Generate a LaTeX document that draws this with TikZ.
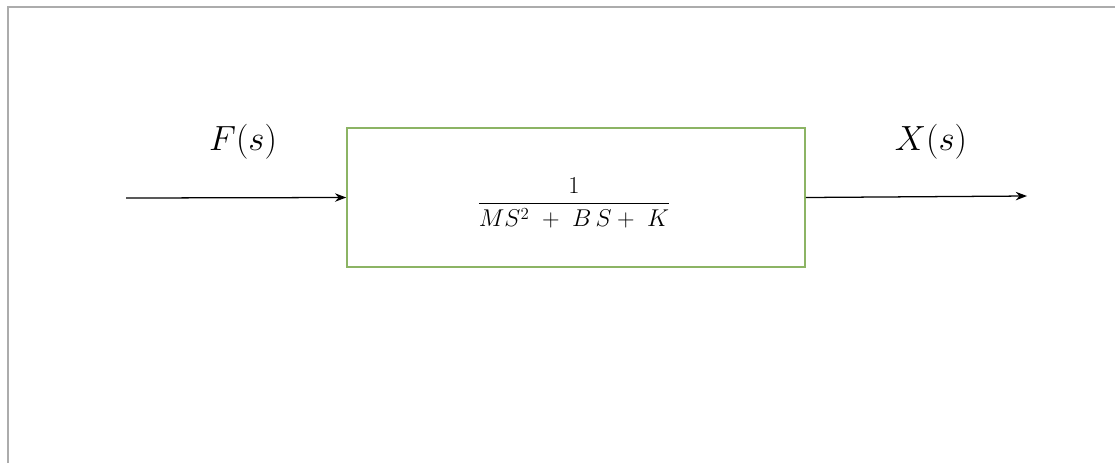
\documentclass[tikz,border=0pt]{standalone}
\usepackage{amsmath}
\usepackage{xcolor}
\usepackage{tikz}
\usetikzlibrary{arrows.meta,positioning}
\definecolor{blockgreen}{RGB}{140,180,100}
\definecolor{framegray}{RGB}{172,172,172}

\begin{document}
\begin{tikzpicture}[x=0.025cm,y=-0.025cm,
    block/.style={draw=blockgreen, line width=1pt, minimum width=11.45cm, minimum height=3.475cm, inner sep=0pt},
    signal/.style={-{Stealth[length=8pt,width=6pt]}, line width=0.9pt}]
  % page and frame
  \useasboundingbox (0,0) rectangle (1115,463);
  \draw[framegray, line width=1.5pt] (8,463) -- (8,7) -- (1115,7);
  % transfer block
  \node[block] (plant) at (576,197.5) {};
  \node (tf) at (574,203) {\fontsize{17}{21}\selectfont$\dfrac{1}{MS^{2}\ +\ B\,S+\ K}$};
  % input and output
  \coordinate (in) at (126,198);
  \coordinate (out) at (1027,196);
  \draw[signal] (in) -- (plant.west);
  \draw[signal] (plant.east) -- (out);
  \node (fs) at (243,142) {\fontsize{24}{29}\selectfont$F(s)$};
  \node (xs) at (931,142) {\fontsize{24}{29}\selectfont$X(s)$};
\end{tikzpicture}
\end{document}
